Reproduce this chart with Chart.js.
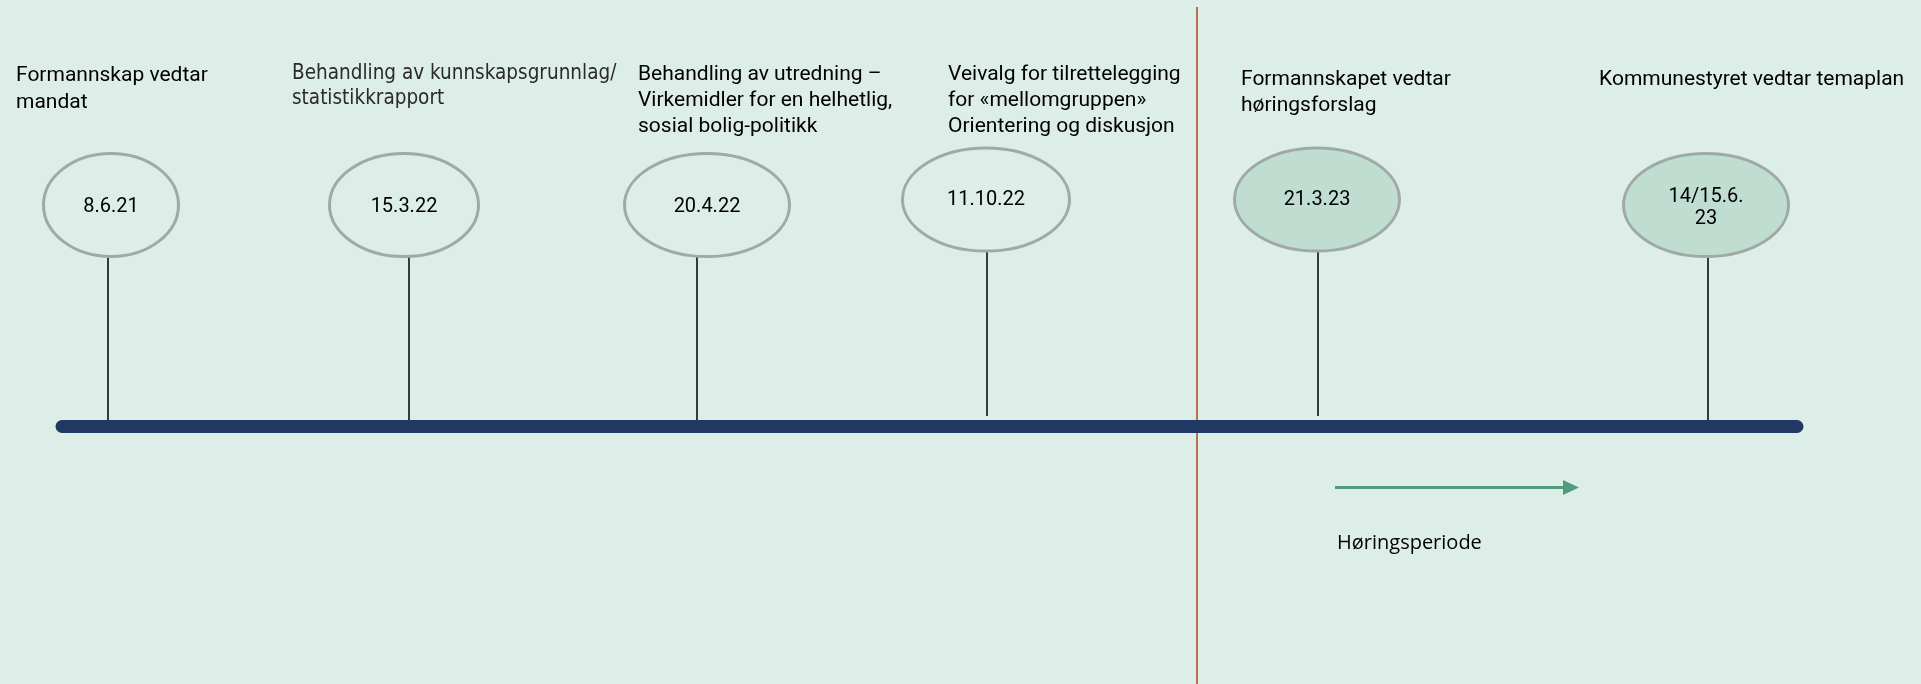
<!DOCTYPE html>
<html>
<head>
<meta charset="utf-8">
<script src="https://cdn.jsdelivr.net/npm/chart.js@4.4.0/dist/chart.umd.min.js"></script>
<style>
html,body{margin:0;padding:0;background:#ddede7;}
canvas{display:block;}
</style>
</head>
<body>
<canvas id="timeline" width="1921" height="684"></canvas>
<script>

// milestones along the timeline
const eventDates = [
["8.6.21"],
["15.3.22"],
["20.4.22"],
["11.10.22"],
["21.3.23"],
["14/15.6.", "23"]
];

const eventLabels = [
["Formannskap vedtar", "mandat"],
["Behandling av kunnskapsgrunnlag/", "statistikkrapport"],
["Behandling av utredning –", "Virkemidler for en helhetlig,", "sosial bolig-politikk"],
["Veivalg for tilrettelegging", "for «mellomgruppen»", "Orientering og diskusjon"],
["Formannskapet vedtar", "høringsforslag"],
["Kommunestyret vedtar temaplan"]
];

// place of each milestone on the timeline (x axis units)
const eventPos = [108, 409, 697, 987, 1318, 1708];

const eventPhase = ["utredning", "utredning", "utredning", "utredning", "vedtak", "vedtak"];

const timelineSpan = [62, 1797];
const hearingDivider = 1197;
const hearingPeriod = [1335, 1565];
const hearingLabel = "Høringsperiode";


// layout bits
const barY = 426.5;
const layout = {
ellipseDx: [3, -5, 10, -1, -1, -2],
ellipseY: [205, 205, 205, 199.5, 199.5, 205],
ellipseRx: [67.5, 74.5, 82.5, 83.5, 82.5, 82.5],
ellipseRy: 51.5,
dateY: [[207], [207], [207], [200], [200], [197, 219]],
stemBottom: [422, 422, 422, 416, 416, 422],
labelDx: [-92, -117, -59, -39, -77, -109],
labelY: [76, 74, 75, 75, 80, 80],
lineGap: [27, 25, 26, 26, 26, 26]
};

const font = "Roboto, 'Noto Sans', sans-serif";


function line(points, color, width, order, cap){
return {
type: "line",
data: points,
borderColor: color,
borderWidth: width,
borderCapStyle: cap || "butt",
pointRadius: 0,
fill: false,
tension: 0,
order: order
};
}


const datasets = [];

datasets.push(line(
[{x: hearingDivider, y: 7}, {x: hearingDivider, y: 684}],
"#b0441f", 1.5, 5
));

eventPos.forEach((p, i) => {
datasets.push(line(
[{x: p, y: layout.ellipseY[i] + layout.ellipseRy}, {x: p, y: layout.stemBottom[i]}],
"#000", 1.5, 4
));
});

datasets.push(line(
[{x: timelineSpan[0], y: barY}, {x: timelineSpan[1], y: barY}],
"#1f3864", 13, 3, "round"
));

datasets.push(line(
[{x: hearingPeriod[0], y: 487.5}, {x: hearingPeriod[1], y: 487.5}],
"#519b7c", 3, 2
));

datasets.push({
type: "scatter",
label: "events",
data: eventPos.map((p, i) => ({x: p + layout.ellipseDx[i], y: layout.ellipseY[i]})),
pointRadius: 0,
order: 1
});


const marks = {
id: "marks",
afterDatasetsDraw(chart){

const ctx = chart.ctx;
const meta = chart.getDatasetMeta(chart.data.datasets.length - 1);

ctx.save();
ctx.textBaseline = "middle";

meta.data.forEach((pt, i) => {

ctx.beginPath();
ctx.ellipse(pt.x, pt.y, layout.ellipseRx[i], layout.ellipseRy, 0, 0, Math.PI * 2);
ctx.fillStyle = eventPhase[i] === "vedtak" ? "#c0ddd1" : "#ddede7";
ctx.fill();
ctx.lineWidth = 3;
ctx.strokeStyle = "#a0aaa5";
ctx.stroke();

ctx.fillStyle = "#000";
ctx.textAlign = "center";
ctx.font = "20px " + font;
eventDates[i].forEach((t, k) => {
ctx.fillText(t, pt.x, layout.dateY[i][k]);
});

const lx = chart.scales.x.getPixelForValue(eventPos[i]) + layout.labelDx[i];
ctx.textAlign = "left";
if(i === 1){
ctx.font = "20.5px 'DejaVu Sans Condensed', " + font;
ctx.fillStyle = "#2a2a2a";
} else {
ctx.font = "21px " + font;
ctx.fillStyle = "#000";
}
eventLabels[i].forEach((t, k) => {
ctx.fillText(t, lx, layout.labelY[i] + k * layout.lineGap[i]);
});

});

// arrow head + label for the hearing period
const arrow = chart.getDatasetMeta(chart.data.datasets.length - 2).data[1];
ctx.beginPath();
ctx.moveTo(arrow.x - 2, arrow.y - 7.5);
ctx.lineTo(arrow.x + 14, arrow.y);
ctx.lineTo(arrow.x - 2, arrow.y + 7.5);
ctx.closePath();
ctx.fillStyle = "#519b7c";
ctx.fill();

ctx.fillStyle = "#000";
ctx.font = "20px 'Open Sans', sans-serif";
ctx.textAlign = "left";
ctx.fillText(hearingLabel, chart.scales.x.getPixelForValue(hearingPeriod[0]) + 2, 543);

ctx.restore();
}
};


new Chart(document.getElementById("timeline"), {
data: {datasets: datasets},
options: {
responsive: false,
animation: false,
events: [],
layout: {padding: 0},
scales: {
x: {type: "linear", min: 0, max: 1921, display: false},
y: {type: "linear", min: 0, max: 684, reverse: true, display: false}
},
plugins: {
legend: {display: false},
tooltip: {enabled: false}
}
},
plugins: [marks]
});

</script>
</body>
</html>
